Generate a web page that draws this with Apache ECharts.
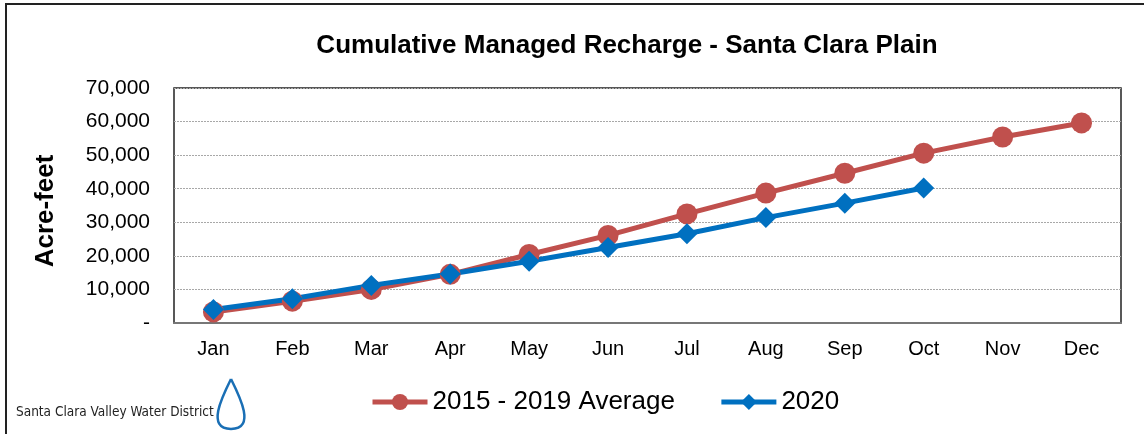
<!DOCTYPE html>
<html>
<head>
<meta charset="utf-8">
<script src="https://cdn.jsdelivr.net/npm/echarts@6/dist/echarts.min.js"></script>
<style>
  html, body { margin: 0; padding: 0; background: #fff; }
  #chart { width: 1144px; height: 434px; }
</style>
</head>
<body>
<div id="chart"></div>
<script>
// months on the x axis
var months = ['Jan', 'Feb', 'Mar', 'Apr', 'May', 'Jun', 'Jul', 'Aug', 'Sep', 'Oct', 'Nov', 'Dec'];
// acre-feet
var avg2015to2019 = [3300, 6500, 10000, 14500, 20400, 26100, 32500, 38700, 44600, 50600, 55400, 59600];
var year2020 = [4000, 7200, 11200, 14600, 18400, 22500, 26600, 31400, 35700, 40200];

var fontMain = 'Arial, "Liberation Sans", sans-serif';
var dropColor = '#1a6fb5';

var chartView = echarts.init(document.getElementById('chart'));
chartView.setOption({
    animation: false,
    title: {
        text: 'Cumulative Managed Recharge - Santa Clara Plain',
        left: 622,
        top: 28,
        textAlign: 'center',
        textStyle: { fontFamily: fontMain, fontWeight: 'bold', fontSize: 26, color: '#000' }
    },
    legend: {
        top: 384,
        left: 365,
        itemWidth: 55,
        itemHeight: 20,
        itemGap: 44,
        lineStyle: { width: 5 },
        textStyle: { fontFamily: fontMain, fontSize: 26, color: '#000' },
        data: ['2015 - 2019 Average', '2020']
    },
    grid: { left: 174, top: 88, width: 947, height: 235, show: true, borderColor: '#222', borderWidth: 1.5 },
    xAxis: {
        type: 'category',
        data: months,
        boundaryGap: true,
        axisLine: { show: true, lineStyle: { color: '#777', width: 2 } },
        axisTick: { show: false },
        axisLabel: { fontFamily: fontMain, fontSize: 20, color: '#000', margin: 16 }
    },
    yAxis: {
        type: 'value',
        min: 0,
        max: 70000,
        interval: 10000,
        axisLine: { show: false },
        axisTick: { show: false },
        splitLine: { lineStyle: { color: '#a8a8a8', type: [2, 1], width: 1 } },
        axisLabel: {
            fontFamily: fontMain, fontSize: 21, color: '#000', margin: 24,
            formatter: function (v) { return v === 0 ? '-' : v.toLocaleString('en-US'); }
        }
    },
    graphic: [
        { type: 'rect', shape: { x: 6, y: 4, width: 1200, height: 500 }, style: { fill: 'none', stroke: '#222', lineWidth: 2 }, silent: true },
        // y axis title
        {
            type: 'text', x: 46, y: 211, rotation: Math.PI / 2,
            style: { text: 'Acre-feet', font: 'bold 26px Arial, "Liberation Sans", sans-serif', fill: '#000', textAlign: 'center', textVerticalAlign: 'middle' }
        },
        { type: 'text', x: 16, y: 405, style: { text: 'Santa Clara Valley Water District', font: '13.5px "DejaVu Sans Condensed", sans-serif', fill: '#222' } },
        // water drop, two halves
        { type: 'bezierCurve', shape: { x1: 231, y1: 379, cpx1: 222, cpy1: 397, cpx2: 206, cpy2: 429, x2: 231, y2: 429 }, style: { fill: 'none', stroke: dropColor, lineWidth: 2.5 } },
        { type: 'bezierCurve', shape: { x1: 231, y1: 379, cpx1: 240, cpy1: 397, cpx2: 256, cpy2: 429, x2: 231, y2: 429 }, style: { fill: 'none', stroke: dropColor, lineWidth: 2.5 } }
    ],
    series: [
        {
            name: '2015 - 2019 Average',
            type: 'line',
            data: avg2015to2019,
            symbol: 'circle',
            symbolSize: 21,
            itemStyle: { color: '#C0504D' },
            lineStyle: { color: '#C0504D', width: 5 }
        },
        {
            name: '2020',
            type: 'line',
            data: year2020,
            symbol: 'diamond',
            symbolSize: 21,
            itemStyle: { color: '#0070C0' },
            lineStyle: { color: '#0070C0', width: 5 }
        }
    ]
});
</script>
</body>
</html>
